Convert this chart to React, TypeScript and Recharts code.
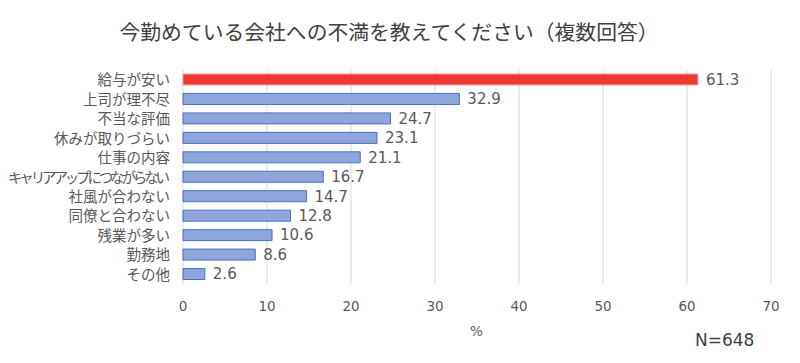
import { Bar, BarChart, CartesianGrid, Cell, LabelList, XAxis, YAxis } from 'recharts';

const categories = [
  '給与が安い',
  '上司が理不尽',
  '不当な評価',
  '休みが取りづらい',
  '仕事の内容',
  'キャリアアップにつながらない',
  '社風が合わない',
  '同僚と合わない',
  '残業が多い',
  '勤務地',
  'その他',
];
const values = [61.3, 32.9, 24.7, 23.1, 21.1, 16.7, 14.7, 12.8, 10.6, 8.6, 2.6];
const xTicks = [0, 10, 20, 30, 40, 50, 60, 70];

const FONT = '"Noto Sans CJK JP", "Noto Sans", sans-serif';
const NUM_FONT = '"DejaVu Sans", sans-serif';
const TEXT = '#595959';
const LABEL_SIZE = 14.5;
const LABEL_MAX = 162;

// long katakana labels are set tighter in the original, squeeze them to fit
function CategoryTick({ x, y, payload }: any) {
  const label: string = payload.value;
  const tooWide = label.length * LABEL_SIZE > LABEL_MAX;
  return (
    <text
      x={x}
      y={y}
      dy="0.38em"
      textAnchor="end"
      fill={TEXT}
      fontSize={LABEL_SIZE}
      fontFamily={FONT}
      textLength={tooWide ? LABEL_MAX : undefined}
      lengthAdjust={tooWide ? 'spacing' : undefined}
    >
      {label}
    </text>
  );
}

export default function App() {
  const chartData = categories.map((label, i) => ({ label, value: values[i] }));

  return (
    <div style={{ position: 'absolute', left: 0, top: 0, width: 800, height: 363, background: '#fff', fontFamily: FONT }}>
      <div
        style={{
          position: 'absolute',
          left: 0,
          top: 17,
          width: 778,
          textAlign: 'center',
          fontSize: 20.8,
          color: '#404040',
          lineHeight: '28px',
        }}
      >
        今勤めている会社への不満を教えてください（複数回答）
      </div>
      <BarChart
        width={800}
        height={363}
        data={chartData}
        layout="vertical"
        margin={{ top: 70, right: 29, left: 0, bottom: 49 }}
        barCategoryGap={4}
      >
        <CartesianGrid horizontal={false} stroke="#d9d9d9" />
        <XAxis
          type="number"
          domain={[0, 70]}
          ticks={xTicks}
          axisLine={false}
          tickLine={false}
          tickSize={0}
          tickMargin={17}
          height={30}
          tick={{ fontSize: 13.5, fill: TEXT, fontFamily: NUM_FONT }}
        />
        <YAxis
          type="category"
          dataKey="label"
          width={183}
          axisLine={false}
          tickLine={false}
          tickSize={0}
          tickMargin={13}
          interval={0}
          tick={<CategoryTick />}
        />
        <Bar dataKey="value" barSize={11} isAnimationActive={false}>
          {chartData.map((d, i) => (
            <Cell
              key={d.label}
              fill={i === 0 ? '#ED3833' : '#8EA6DC'}
              stroke={i === 0 ? '#F39C98' : '#4472C4'}
              strokeWidth={1}
            />
          ))}
          <LabelList
            dataKey="value"
            position="right"
            offset={8}
            style={{ fontSize: 15, fill: TEXT, fontFamily: NUM_FONT }}
          />
        </Bar>
      </BarChart>
      <div style={{ position: 'absolute', left: 470, top: 323, fontSize: 13.5, color: TEXT, fontFamily: NUM_FONT }}>%</div>
      <div style={{ position: 'absolute', left: 695, top: 330, fontSize: 17, color: '#404040', fontFamily: NUM_FONT }}>N=648</div>
    </div>
  );
}
